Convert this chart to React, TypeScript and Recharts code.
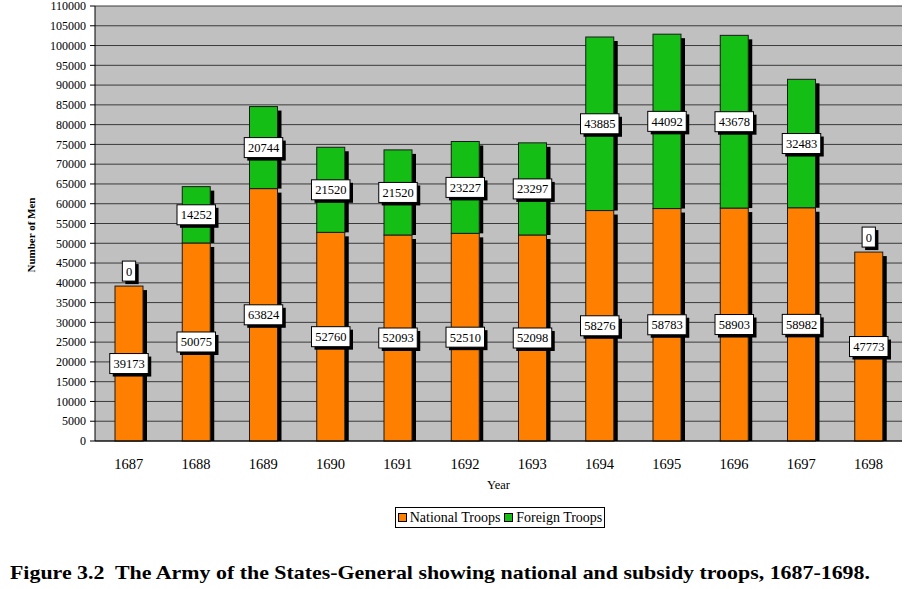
import { BarChart, Bar, XAxis, YAxis, CartesianGrid, LabelList } from 'recharts';

const years = ['1687', '1688', '1689', '1690', '1691', '1692', '1693', '1694', '1695', '1696', '1697', '1698'];
const nationalTroops = [39173, 50075, 63824, 52760, 52093, 52510, 52098, 58276, 58783, 58903, 58982, 47773];
const foreignTroops = [0, 14252, 20744, 21520, 21520, 23227, 23297, 43885, 44092, 43678, 32483, 0];
const yTicks = [
    0, 5000, 10000, 15000, 20000, 25000, 30000, 35000, 40000, 45000, 50000, 55000,
    60000, 65000, 70000, 75000, 80000, 85000, 90000, 95000, 100000, 105000, 110000,
];
// boundaries between year bands, for the Excel-style tick marks
const bandEdges = [0, 1, 2, 3, 4, 5, 6, 7, 8, 9, 10, 11, 12];

const ORANGE = '#FF8000';
const GREEN = '#14BE14';
const FONT = '"Liberation Serif", "Times New Roman", serif';

const data = years.map((year, i) => ({
    year,
    national: nationalTroops[i],
    foreign: foreignTroops[i],
}));

const ShadowBar = (props: any) => {
    const { x, y, width, height, fill } = props;
    if (height == null || height <= 0) return null;
    return (
        <g>
            <rect x={x + width} y={y + 4} width={4} height={Math.max(height - 4, 0)} fill="#000" />
            <rect x={x} y={y} width={width} height={height} fill={fill} stroke="#1a1a1a" strokeWidth={1} />
        </g>
    );
};

const BoxLabel = (props: any) => {
    const { x, y, width, height, value } = props;
    const text = String(value);
    const w = text.length * 6.3 + 7;
    const h = 20;
    const cx = x + width / 2;
    // zero-height segments get their label lifted above the bar, as Excel does
    const cy = Number(value) === 0 ? y + height / 2 - 15 : y + height / 2;
    return (
        <g>
            <rect x={cx - w / 2 + 3} y={cy - h / 2 + 3} width={w} height={h} fill="#000" />
            <rect x={cx - w / 2} y={cy - h / 2} width={w} height={h} fill="#fff" stroke="#000" strokeWidth={1} />
            <text x={cx} y={cy + 4.5} textAnchor="middle" fontFamily={FONT} fontSize={12.5} style={{ fill: '#000' }}>
                {text}
            </text>
        </g>
    );
};

const YLabel = () => (
    <text
        x={35}
        y={235}
        transform="rotate(-90, 35, 235)"
        textAnchor="middle"
        fontFamily={FONT}
        fontSize={11}
        fontWeight="bold"
        fill="#000"
    >
        Number of Men
    </text>
);

export default function App() {
    return (
        <div style={{ position: 'absolute', left: 0, top: 0, width: 908, height: 589, background: '#fff' }}>
            <BarChart
                width={908}
                height={545}
                data={data}
                margin={{ top: 6, right: 6, left: 0, bottom: 54 }}
            >
                <CartesianGrid vertical={false} stroke="#3a3a3a" fill="#C0C0C0" />
                <XAxis
                    xAxisId="edges"
                    type="number"
                    domain={[0, 12]}
                    ticks={bandEdges}
                    allowDataOverflow
                    tick={false}
                    tickSize={5}
                    axisLine={false}
                    tickLine={{ stroke: '#000' }}
                    height={0}
                />
                <XAxis
                    xAxisId="cat"
                    dataKey="year"
                    height={50}
                    tickLine={false}
                    axisLine={{ stroke: '#000' }}
                    tickMargin={12}
                    tick={{ fill: '#000', fontFamily: FONT, fontSize: 14.5 }}
                    label={{ value: 'Year', position: 'insideBottom', offset: 2, fill: '#000', fontFamily: FONT, fontSize: 12.5 }}
                />
                <YAxis
                    width={95}
                    domain={[0, 110000]}
                    ticks={yTicks}
                    interval={0}
                    tickSize={5}
                    tickMargin={4}
                    axisLine={{ stroke: '#000' }}
                    tickLine={{ stroke: '#000' }}
                    tick={{ fill: '#000', fontFamily: FONT, fontSize: 12 }}
                    label={<YLabel />}
                />
                <Bar xAxisId="cat" dataKey="national" stackId="a" fill={ORANGE} barSize={28} shape={<ShadowBar />} isAnimationActive={false}>
                    <LabelList dataKey="national" content={<BoxLabel />} />
                </Bar>
                <Bar xAxisId="cat" dataKey="foreign" stackId="a" fill={GREEN} barSize={28} shape={<ShadowBar />} isAnimationActive={false}>
                    <LabelList dataKey="foreign" content={<BoxLabel />} />
                </Bar>
            </BarChart>
            <div
                style={{
                    position: 'absolute',
                    left: 395,
                    top: 507,
                    width: 208,
                    height: 19,
                    border: '1px solid #000',
                    background: '#fff',
                    display: 'flex',
                    alignItems: 'center',
                    justifyContent: 'center',
                    fontFamily: FONT,
                    fontSize: 14,
                    gap: 3,
                }}
            >
                <span style={{ display: 'inline-block', width: 7, height: 7, background: ORANGE, border: '1px solid #000' }} />
                <span style={{ marginRight: 1 }}>National Troops</span>
                <span style={{ display: 'inline-block', width: 7, height: 7, background: GREEN, border: '1px solid #000' }} />
                <span>Foreign Troops</span>
            </div>
            <svg style={{ position: 'absolute', left: 0, top: 555 }} width={908} height={34}>
                <text
                    x={10}
                    y={24}
                    textLength={860}
                    lengthAdjust="spacingAndGlyphs"
                    fontFamily={FONT}
                    fontWeight="bold"
                    fontSize={19.5}
                    fill="#000"
                >
                    Figure 3.2{'\u00a0 '}The Army of the States-General showing national and subsidy troops, 1687-1698.
                </text>
            </svg>
        </div>
    );
}
